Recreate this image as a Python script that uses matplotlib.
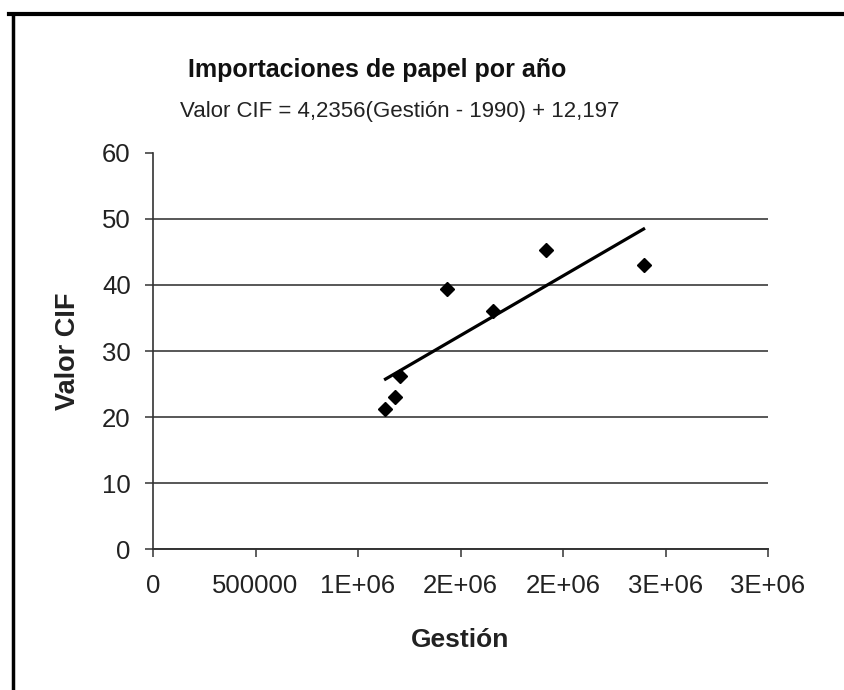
import numpy as np
import matplotlib
matplotlib.use("Agg")
import matplotlib.pyplot as plt
from matplotlib.lines import Line2D

plt.rcParams["font.family"] = ["Liberation Sans", "DejaVu Sans"]

# Data
gestion = [1134000, 1182000, 1203000, 1435000, 1660000, 1915000, 2393000]
valor_cif = [21.2, 23.0, 26.2, 39.4, 36.0, 45.3, 43.0]

x_ticks = [0, 500000, 1000000, 1500000, 2000000, 2500000, 3000000]
x_tick_labels = ["0", "500000", "1E+06", "2E+06", "2E+06", "3E+06", "3E+06"]
y_ticks = [0, 10, 20, 30, 40, 50, 60]

title = "Importaciones de papel por año"
equation = "Valor CIF = 4,2356(Gestión - 1990) + 12,197"

# Linear trend line (least squares)
slope, intercept = np.polyfit(gestion, valor_cif, 1)
x_fit = np.array([min(gestion), max(gestion)])
y_fit = slope * x_fit + intercept

fig = plt.figure(figsize=(8.44, 6.9), dpi=100)
ax = fig.add_axes([0.1813, 0.2043, 0.7287, 0.574])

ax.plot(x_fit, y_fit, color="black", lw=2.3, zorder=3)
ax.plot(gestion, valor_cif, linestyle="none", marker="D", ms=7,
        color="black", zorder=4)

ax.set_xlim(0, 3000000)
ax.set_ylim(0, 60)
ax.set_xticks(x_ticks)
ax.set_xticklabels(x_tick_labels)
ax.set_yticks(y_ticks)

ax.grid(axis="y", color="#4a4a4a", lw=1.3)
ax.get_ygridlines()[-1].set_visible(False)
ax.set_axisbelow(True)

for s in ["top", "right"]:
    ax.spines[s].set_visible(False)
ax.spines["left"].set_color("#333333")
ax.spines["bottom"].set_color("#333333")
ax.spines["left"].set_linewidth(1.2)
ax.spines["bottom"].set_linewidth(1.4)

ax.tick_params(axis="both", direction="out", length=6, width=1.1,
               colors="#333333", labelsize=18.5, labelcolor="#222222")
ax.tick_params(axis="x", pad=12)
ax.tick_params(axis="y", pad=10)

ax.set_xlabel("Gestión", fontsize=19, fontweight="bold", color="#222222")
ax.set_ylabel("Valor CIF", fontsize=19.5, fontweight="bold", color="#222222")
ax.xaxis.set_label_coords(0.5, -0.23)
ax.xaxis.label.set_verticalalignment("center")
ax.yaxis.set_label_coords(-0.138, 0.5)
ax.yaxis.label.set_verticalalignment("center")

fig.text(0.4467, 0.8884, title, ha="center", va="baseline", fontsize=18,
         fontweight="bold", color="#111111")
fig.text(0.4733, 0.8304, equation, ha="center", va="baseline", fontsize=16,
         color="#222222")

# Outer frame (top and left edges visible in the scan)
fig.add_artist(Line2D([0.011, 1.0], [0.98, 0.98], transform=fig.transFigure,
                      color="black", lw=3))
fig.add_artist(Line2D([0.015, 0.015], [0.0, 0.98], transform=fig.transFigure,
                      color="black", lw=2.5))

fig.savefig("out.png", dpi=100)
